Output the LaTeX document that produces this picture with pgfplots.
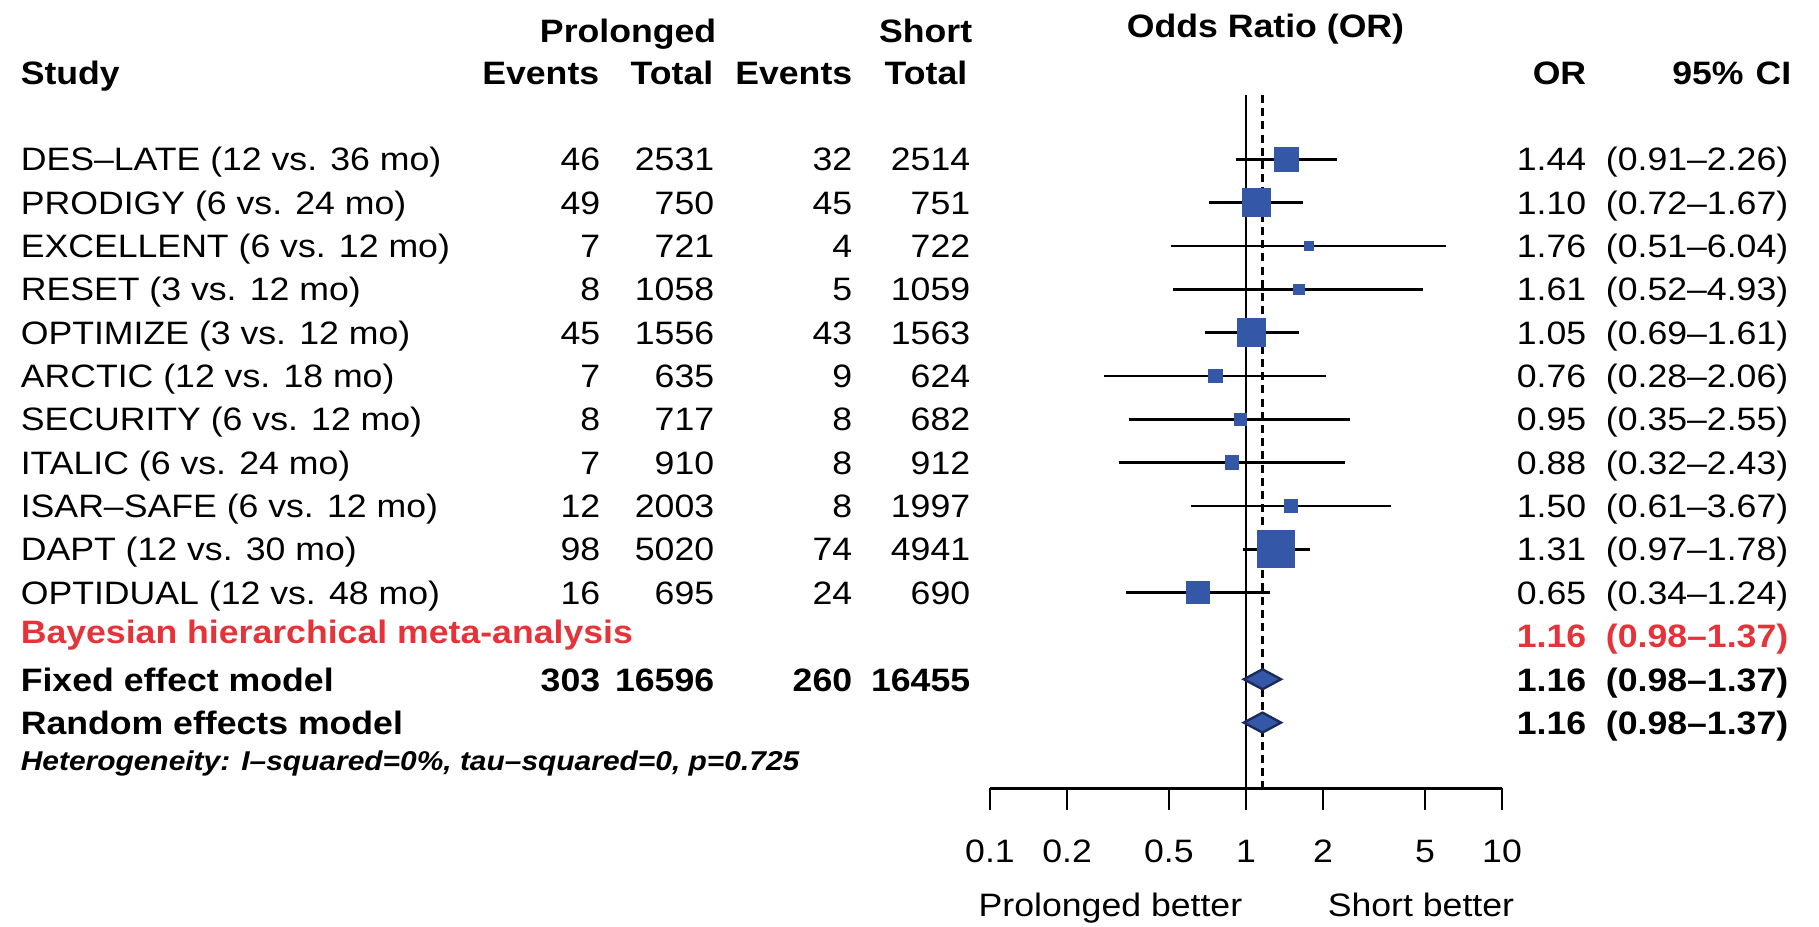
\documentclass[border=0pt]{standalone}
\usepackage{fontspec}
\setmainfont{Liberation Sans}[FakeStretch=1.1]
\usepackage{pgfplots}
\usepackage{pgfplotstable}
\pgfplotsset{compat=1.18}

\definecolor{sqblue}{HTML}{3557A8}
\definecolor{dmedge}{HTML}{1C2B5E}
\definecolor{bayesred}{HTML}{E5333A}
\newcommand{\fs}{\fontsize{8.1}{9.7}\selectfont}

% study rows (y = -row), odds ratio, 95% CI, square side in pt
\pgfplotstableread{
row or lo hi side
-1 1.44 0.91 2.26 5.75
-2 1.10 0.72 1.67 6.75
-3 1.76 0.51 6.04 2.25
-4 1.61 0.52 4.93 2.4
-5 1.05 0.69 1.61 7.0
-6 0.76 0.28 2.06 3.25
-7 0.95 0.35 2.55 2.75
-8 0.88 0.32 2.43 3.25
-9 1.50 0.61 3.67 3.0
-10 1.31 0.97 1.78 9.0
-11 0.65 0.34 1.24 5.5
}\studies

\begin{document}
\begin{tikzpicture}[every node/.style={inner sep=0pt, font=\fs}]
\begin{axis}[
    at={(247.5pt,-197pt)}, anchor=south west,
    scale only axis, width=128pt, height=173.25pt,
    xmode=log, xmin=0.1, xmax=10,
    ymin=-15.51, ymax=0.484,
    axis x line*=bottom, axis y line=none,
    x axis line style={-, line width=0.75pt},
    xtick={0.1,0.2,0.5,1,2,5,10},
    xticklabels={0.1,0.2,0.5,1,2,5,10},
    xminorticks=false, ytick=\empty,
    tick align=outside, major tick length=5.5pt,
    every tick/.style={black, line width=0.7pt},
    xticklabel style={font=\fs, anchor=base, yshift=-13.2pt},
    /pgf/number format/assume math mode=true,
    clip=false,
]
% null line and pooled estimate
\addplot[black, line width=0.7pt] coordinates {(1,0.484) (1,-15.51)};
\addplot[black, line width=0.6pt, dash pattern=on 2pt off 1.3pt] coordinates {(1.16,0.484) (1.16,-15.51)};

% squares sized by weight
\addplot[scatter, only marks, mark=square*,
    scatter/use mapped color={draw=sqblue, fill=sqblue},
    visualization depends on={\thisrow{side}/2 \as \half},
    scatter/@pre marker code/.append style={/tikz/mark size=\half}]
    table[x=or, y=row] {\studies};

% confidence intervals
\addplot[black, line width=0.7pt, empty line=jump] table {
x y
0.91 -1
2.26 -1

0.72 -2
1.67 -2

0.51 -3
6.04 -3

0.52 -4
4.93 -4

0.69 -5
1.61 -5

0.28 -6
2.06 -6

0.35 -7
2.55 -7

0.32 -8
2.43 -8

0.61 -9
3.67 -9

0.97 -10
1.78 -10

0.34 -11
1.24 -11
};

% fixed and random effects diamonds
\addplot[fill=sqblue, draw=dmedge, line width=0.6pt] coordinates {(0.98,-13) (1.16,-12.77) (1.37,-13) (1.16,-13.23)} -- cycle;
\addplot[fill=sqblue, draw=dmedge, line width=0.6pt] coordinates {(0.98,-14) (1.16,-13.77) (1.37,-14) (1.16,-14.23)} -- cycle;
\end{axis}

\begin{scope}[x=0.25pt, y=-0.25pt]
\path (0,0) rectangle (1819,926);
% headers
\node[anchor=base, font=\fs\bfseries] at (1265.5,37) {Odds Ratio (OR)};
\node[anchor=base east, font=\fs\bfseries] at (717,42) {Prolonged};
\node[anchor=base east, font=\fs\bfseries] at (973,42) {Short};
\node[anchor=base west, font=\fs\bfseries] at (20,84) {Study};
\node[anchor=base east, font=\fs\bfseries] at (600,84) {Events};
\node[anchor=base east, font=\fs\bfseries] at (714,84) {Total};
\node[anchor=base east, font=\fs\bfseries] at (853,84) {Events};
\node[anchor=base east, font=\fs\bfseries] at (968,84) {Total};
\node[anchor=base east, font=\fs\bfseries] at (1587,84) {OR};
\node[anchor=base east, font=\fs\bfseries] at (1792,84) {95\%\hspace{3pt}CI};

\foreach \stname/\ea/\na/\eb/\nb/\orv/\civ [count=\i] in {
  DES–LATE (12 vs. 36 mo)/46/2531/32/2514/1.44/(0.91–2.26),
  PRODIGY (6 vs. 24 mo)/49/750/45/751/1.10/(0.72–1.67),
  EXCELLENT (6 vs. 12 mo)/7/721/4/722/1.76/(0.51–6.04),
  RESET (3 vs. 12 mo)/8/1058/5/1059/1.61/(0.52–4.93),
  OPTIMIZE (3 vs. 12 mo)/45/1556/43/1563/1.05/(0.69–1.61),
  ARCTIC (12 vs. 18 mo)/7/635/9/624/0.76/(0.28–2.06),
  SECURITY (6 vs. 12 mo)/8/717/8/682/0.95/(0.35–2.55),
  ITALIC (6 vs. 24 mo)/7/910/8/912/0.88/(0.32–2.43),
  ISAR–SAFE (6 vs. 12 mo)/12/2003/8/1997/1.50/(0.61–3.67),
  DAPT (12 vs. 30 mo)/98/5020/74/4941/1.31/(0.97–1.78),
  OPTIDUAL (12 vs. 48 mo)/16/695/24/690/0.65/(0.34–1.24)}{
  \pgfmathsetmacro\yb{159.3+43.33*(\i-1)+11.5}
  \node[anchor=base west] at (20,\yb) {\stname};
  \node[anchor=base east] at (601,\yb) {\ea};
  \node[anchor=base east] at (715,\yb) {\na};
  \node[anchor=base east] at (853,\yb) {\eb};
  \node[anchor=base east] at (971,\yb) {\nb};
  \node[anchor=base east] at (1587,\yb) {\orv};
  \node[anchor=base east] at (1789,\yb) {\civ};
}

% pooled rows
\node[anchor=base west, font=\fs\bfseries, text=bayesred] at (20,643) {Bayesian hierarchical meta-analysis};
\node[anchor=base east, font=\fs\bfseries, text=bayesred] at (1587,647) {1.16};
\node[anchor=base east, font=\fs\bfseries, text=bayesred] at (1789,647) {(0.98–1.37)};

\node[anchor=base west, font=\fs\bfseries] at (20,691) {Fixed effect model};
\node[anchor=base east, font=\fs\bfseries] at (601,691) {303};
\node[anchor=base east, font=\fs\bfseries] at (715,691) {16596};
\node[anchor=base east, font=\fs\bfseries] at (853,691) {260};
\node[anchor=base east, font=\fs\bfseries] at (971,691) {16455};
\node[anchor=base east, font=\fs\bfseries] at (1587,691) {1.16};
\node[anchor=base east, font=\fs\bfseries] at (1789,691) {(0.98–1.37)};

\node[anchor=base west, font=\fs\bfseries] at (20,734) {Random effects model};
\node[anchor=base east, font=\fs\bfseries] at (1587,734) {1.16};
\node[anchor=base east, font=\fs\bfseries] at (1789,734) {(0.98–1.37)};

\node[anchor=base west, font=\fontsize{6.8}{8}\selectfont\bfseries\itshape] at (20,770)
  {Heterogeneity: I–squared=0\%, tau–squared=0, p=0.725};

% direction labels
\node[anchor=base east] at (1243,916) {Prolonged better};
\node[anchor=base west] at (1327,916) {Short better};
\end{scope}
\end{tikzpicture}
\end{document}
